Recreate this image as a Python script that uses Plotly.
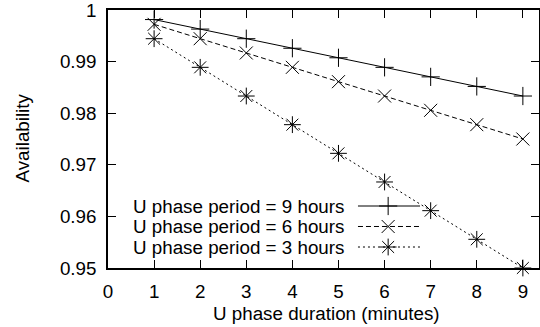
import plotly.graph_objects as go

duration = [1, 2, 3, 4, 5, 6, 7, 8, 9]
avail_9h = [0.99815, 0.99630, 0.99444, 0.99259, 0.99074, 0.98889, 0.98704, 0.98519, 0.98333]
avail_6h = [0.99722, 0.99444, 0.99167, 0.98889, 0.98611, 0.98333, 0.98056, 0.97778, 0.97500]
avail_3h = [0.99444, 0.98889, 0.98333, 0.97778, 0.97222, 0.96667, 0.96111, 0.95556, 0.95000]
series_names = ["U phase period = 9 hours", "U phase period = 6 hours", "U phase period = 3 hours"]
y_ticks = [0.95, 0.96, 0.97, 0.98, 0.99, 1.0]
y_tick_labels = ["0.95", "0.96", "0.97", "0.98", "0.99", "1"]
x_ticks = [0, 1, 2, 3, 4, 5, 6, 7, 8, 9]

FONT = "Liberation Sans, Arial, sans-serif"
TXT = 18.8
styles = [
    dict(symbol="cross-thin", dash="solid", size=13),
    dict(symbol="x-thin", dash="5px,3px", size=13),
    dict(symbol="asterisk", dash="2px,3px", size=14),
]
data = [avail_9h, avail_6h, avail_3h]

fig = go.Figure()
for name, ys, st in zip(series_names, data, styles):
    fig.add_trace(go.Scatter(
        x=duration, y=ys, mode="lines+markers", name=name, showlegend=False,
        line=dict(color="black", width=1, dash=st["dash"]),
        marker=dict(symbol=st["symbol"], size=st["size"], color="black",
                    line=dict(color="black", width=1)),
        cliponaxis=False,
    ))

# manual gnuplot-style key (text left, sample right)
key_rows = [0.2403, 0.1609, 0.0814]
for name, st, ky in zip(series_names, styles, key_rows):
    fig.add_trace(go.Scatter(
        x=[0.580, 0.724], y=[ky, ky], mode="lines", xaxis="x2", yaxis="y2",
        showlegend=False, hoverinfo="skip",
        line=dict(color="black", width=1, dash=st["dash"]),
    ))
    fig.add_trace(go.Scatter(
        x=[0.650], y=[ky], mode="markers", xaxis="x2", yaxis="y2",
        showlegend=False, hoverinfo="skip",
        marker=dict(symbol=st["symbol"], size=st["size"], color="black",
                    line=dict(color="black", width=1)),
    ))
    fig.add_annotation(
        text=name, xref="x2", yref="y2", x=0.553, y=ky, xanchor="right",
        yanchor="middle", showarrow=False, font=dict(family=FONT, size=TXT, color="black"),
    )

# axis titles
fig.add_annotation(text="U phase duration (minutes)", xref="paper", yref="paper",
                   x=0.507, y=0, yshift=-45, xanchor="center", yanchor="middle",
                   showarrow=False, font=dict(family=FONT, size=TXT, color="black"))
fig.add_annotation(text="Availability", xref="paper", yref="paper",
                   x=0, y=0.502, xshift=-86, xanchor="center", yanchor="middle",
                   textangle=-90, showarrow=False,
                   font=dict(family=FONT, size=TXT, color="black"))

axis_common = dict(
    showline=True, linecolor="black", linewidth=1.5, mirror="ticks",
    ticks="inside", ticklen=8, tickcolor="black", tickwidth=1,
    showgrid=False, zeroline=False, automargin=False, ticklabeloverflow="allow",
    tickfont=dict(family=FONT, size=TXT, color="black"),
)

fig.update_layout(
    width=540, height=327,
    margin=dict(l=108, r=1, t=10, b=59),
    paper_bgcolor="white", plot_bgcolor="white",
    font=dict(family=FONT, size=TXT, color="black"),
    xaxis=dict(range=[0, 9.35], tickvals=x_ticks, ticklabelstandoff=6, **axis_common),
    yaxis=dict(range=[0.95, 1.0], tickvals=y_ticks, ticktext=y_tick_labels,
               ticklabelstandoff=6, **axis_common),
    xaxis2=dict(range=[0, 1], overlaying="x", visible=False),
    yaxis2=dict(range=[0, 1], overlaying="y", visible=False),
)

fig.write_html("out.html", config={"displayModeBar": False},
               post_script="document.body.style.margin='0';document.body.style.overflow='hidden';")
